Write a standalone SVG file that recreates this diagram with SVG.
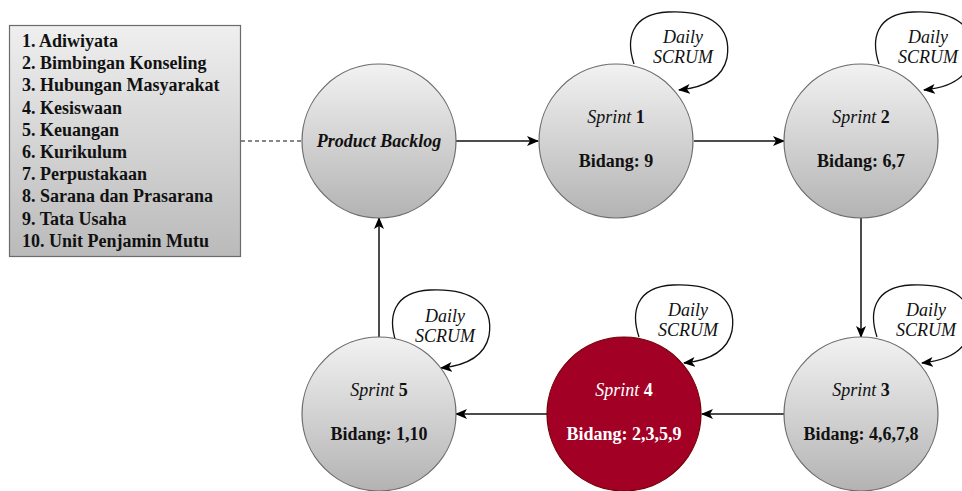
<svg xmlns="http://www.w3.org/2000/svg" width="962" height="491" viewBox="0 0 962 491">
  <defs>
    <linearGradient id="grayFill" x1="0" y1="0" x2="0" y2="1">
      <stop offset="0" stop-color="#f2f2f2"/>
      <stop offset="1" stop-color="#b3b3b3"/>
    </linearGradient>
    <linearGradient id="boxFill" x1="0" y1="0" x2="0" y2="1">
      <stop offset="0" stop-color="#efefef"/>
      <stop offset="1" stop-color="#bababa"/>
    </linearGradient>
    <marker id="arrow" viewBox="0 0 12 10" refX="11" refY="5" markerWidth="12" markerHeight="10" markerUnits="userSpaceOnUse" orient="auto">
      <path d="M0,0 L12,5 L0,10 L3,5 Z" fill="#000"/>
    </marker>
    <!-- daily scrum self-loop, relative to the sprint centre -->
    <path id="loop" d="M18,-77 C10,-101 14,-127 52,-129 C96,-131 116,-113 111,-83 C106,-61 84,-53 63,-51"/>
  </defs>

  <g id="bidang-list">
    <rect x="9.5" y="25.5" width="231" height="231" fill="url(#boxFill)" stroke="#6b6b6b" stroke-width="1.2"/>
    <text font-family="Liberation Serif" font-size="18" font-weight="bold" fill="#111" x="22" y="47">
      <tspan x="22" y="47">1. Adiwiyata</tspan>
      <tspan x="22" y="69.2">2. Bimbingan Konseling</tspan>
      <tspan x="22" y="91.4">3. Hubungan Masyarakat</tspan>
      <tspan x="22" y="113.6">4. Kesiswaan</tspan>
      <tspan x="22" y="135.8">5. Keuangan</tspan>
      <tspan x="22" y="158">6. Kurikulum</tspan>
      <tspan x="22" y="180.2">7. Perpustakaan</tspan>
      <tspan x="22" y="202.4">8. Sarana dan Prasarana</tspan>
      <tspan x="22" y="224.6">9. Tata Usaha</tspan>
      <tspan x="22" y="246.8">10. Unit Penjamin Mutu</tspan>
    </text>
  </g>

  <g id="connectors">
    <line x1="241" y1="141" x2="302" y2="141" fill="none" stroke="#111" stroke-width="1.2" stroke-dasharray="4 3"/>
    <g fill="none" stroke="#111" stroke-width="1.5" marker-end="url(#arrow)">
      <line x1="456" y1="141" x2="538" y2="141"/>
      <line x1="694" y1="141" x2="784" y2="141"/>
      <line x1="861" y1="218" x2="861" y2="337"/>
      <line x1="784" y1="414" x2="702" y2="414"/>
      <line x1="547" y1="414" x2="456" y2="414"/>
      <line x1="379" y1="337" x2="379" y2="218"/>
    </g>
    <g fill="none" stroke="#111" stroke-width="1.3" marker-end="url(#arrow)">
      <use href="#loop" transform="translate(616,141)"/>
      <use href="#loop" transform="translate(861,141)"/>
      <use href="#loop" transform="translate(859,414)"/>
      <use href="#loop" transform="translate(621,414)"/>
      <use href="#loop" transform="translate(378,419)"/>
    </g>
    <text font-family="Liberation Serif" font-size="18" font-style="italic" fill="#111" text-anchor="middle" x="683" y="43">Daily</text>
    <text font-family="Liberation Serif" font-size="18" font-style="italic" fill="#111" text-anchor="middle" x="683" y="63">SCRUM</text>
    <text font-family="Liberation Serif" font-size="18" font-style="italic" fill="#111" text-anchor="middle" x="928" y="43">Daily</text>
    <text font-family="Liberation Serif" font-size="18" font-style="italic" fill="#111" text-anchor="middle" x="928" y="63">SCRUM</text>
    <text font-family="Liberation Serif" font-size="18" font-style="italic" fill="#111" text-anchor="middle" x="926" y="316">Daily</text>
    <text font-family="Liberation Serif" font-size="18" font-style="italic" fill="#111" text-anchor="middle" x="926" y="336">SCRUM</text>
    <text font-family="Liberation Serif" font-size="18" font-style="italic" fill="#111" text-anchor="middle" x="688" y="316">Daily</text>
    <text font-family="Liberation Serif" font-size="18" font-style="italic" fill="#111" text-anchor="middle" x="688" y="336">SCRUM</text>
    <text font-family="Liberation Serif" font-size="18" font-style="italic" fill="#111" text-anchor="middle" x="445" y="322">Daily</text>
    <text font-family="Liberation Serif" font-size="18" font-style="italic" fill="#111" text-anchor="middle" x="445" y="342">SCRUM</text>
  </g>

  <g id="product-backlog">
    <circle cx="379" cy="141" r="77" fill="url(#grayFill)" stroke="#6b6b6b" stroke-width="1.2"/>
    <text font-family="Liberation Serif" font-size="18" font-weight="bold" font-style="italic" fill="#111" text-anchor="middle" x="379" y="147">Product Backlog</text>
  </g>

  <g id="sprint-1">
    <circle cx="616" cy="141" r="77" fill="url(#grayFill)" stroke="#6b6b6b" stroke-width="1.2"/>
    <text font-family="Liberation Serif" font-size="18" fill="#111" text-anchor="middle" x="616" y="123"><tspan font-style="italic">Sprint</tspan> <tspan font-weight="bold">1</tspan></text>
    <text font-family="Liberation Serif" font-size="18" font-weight="bold" fill="#111" text-anchor="middle" x="616" y="167">Bidang: 9</text>
  </g>

  <g id="sprint-2">
    <circle cx="861" cy="141" r="77" fill="url(#grayFill)" stroke="#6b6b6b" stroke-width="1.2"/>
    <text font-family="Liberation Serif" font-size="18" fill="#111" text-anchor="middle" x="861" y="123"><tspan font-style="italic">Sprint</tspan> <tspan font-weight="bold">2</tspan></text>
    <text font-family="Liberation Serif" font-size="18" font-weight="bold" fill="#111" text-anchor="middle" x="861" y="167">Bidang: 6,7</text>
  </g>

  <g id="sprint-3">
    <circle cx="861" cy="414" r="77" fill="url(#grayFill)" stroke="#6b6b6b" stroke-width="1.2"/>
    <text font-family="Liberation Serif" font-size="18" fill="#111" text-anchor="middle" x="861" y="396"><tspan font-style="italic">Sprint</tspan> <tspan font-weight="bold">3</tspan></text>
    <text font-family="Liberation Serif" font-size="18" font-weight="bold" fill="#111" text-anchor="middle" x="861" y="440">Bidang: 4,6,7,8</text>
  </g>

  <g id="sprint-4">
    <circle cx="624" cy="414" r="77" fill="#a20025" stroke="#6f0000" stroke-width="1.2"/>
    <text font-family="Liberation Serif" font-size="18" fill="#ffffff" text-anchor="middle" x="624" y="396"><tspan font-style="italic">Sprint</tspan> <tspan font-weight="bold">4</tspan></text>
    <text font-family="Liberation Serif" font-size="18" font-weight="bold" fill="#ffffff" text-anchor="middle" x="624" y="440">Bidang: 2,3,5,9</text>
  </g>

  <g id="sprint-5">
    <circle cx="379" cy="414" r="77" fill="url(#grayFill)" stroke="#6b6b6b" stroke-width="1.2"/>
    <text font-family="Liberation Serif" font-size="18" fill="#111" text-anchor="middle" x="379" y="396"><tspan font-style="italic">Sprint</tspan> <tspan font-weight="bold">5</tspan></text>
    <text font-family="Liberation Serif" font-size="18" font-weight="bold" fill="#111" text-anchor="middle" x="379" y="440">Bidang: 1,10</text>
  </g>
</svg>
